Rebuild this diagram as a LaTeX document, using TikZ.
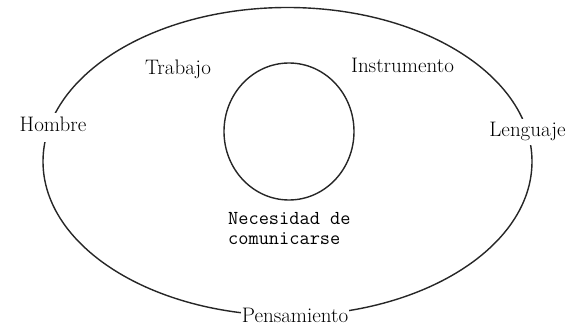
\documentclass[tikz,border=0pt]{standalone}
\begin{document}
\begin{tikzpicture}[x=1pt,y=-1pt,
  ring/.style={draw=black!85,line width=1.4pt},
  word/.style={fill=white,inner xsep=1pt,inner ysep=4pt,anchor=base,
    font=\fontsize{21}{25}\selectfont},
  monoword/.style={inner sep=0pt,anchor=north west,align=left,
    font=\fontsize{19.8}{20}\selectfont\ttfamily}]
\useasboundingbox (0,0) rectangle (574,331);
\fill[white] (0,0) rectangle (574,331);
% outer and inner rings
\draw[ring] (287.5,161.5) ellipse [x radius=244.5, y radius=154];
\draw[ring] (289,131.5) ellipse [x radius=65, y radius=68.5];
% labels
\node[word] (trabajo) at (178,75) {Trabajo};
\node[word] (instrumento) at (402.5,73) {Instrumento};
\node[word,text depth=6pt] (hombre) at (53,132) {Hombre};
\node[word] (lenguaje) at (527.5,137) {Lenguaje};
\node[word] (pensamiento) at (295,323) {Pensamiento};
\node[monoword] (necesidad) at (228,212) {Necesidad de\\comunicarse};
\end{tikzpicture}
\end{document}
